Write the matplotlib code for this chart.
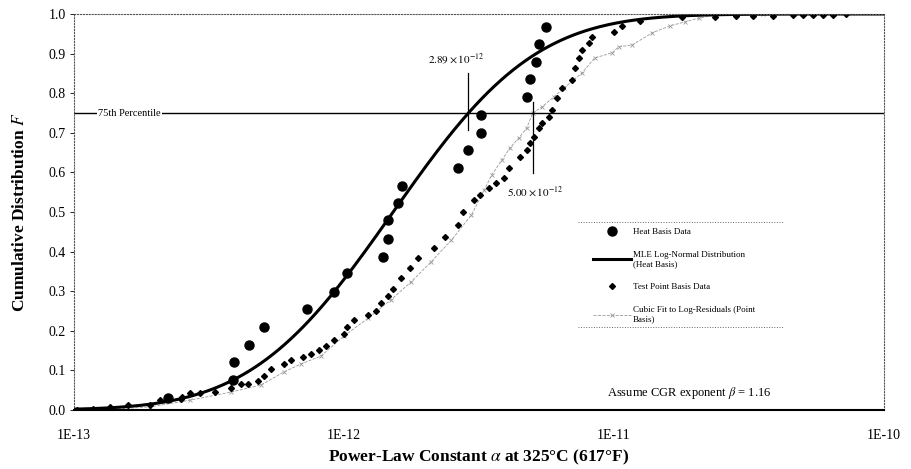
import math
import matplotlib.pyplot as plt
import numpy as np

# Heat basis data: power-law constant alpha and cumulative distribution F
heat_alpha = [2.22e-13, 3.87e-13, 3.90e-13, 4.43e-13, 5.05e-13, 7.28e-13, 9.18e-13,
              1.03e-12, 1.40e-12, 1.46e-12, 1.46e-12, 1.59e-12, 1.64e-12, 2.65e-12,
              2.89e-12, 3.23e-12, 3.23e-12, 4.75e-12, 4.88e-12, 5.13e-12, 5.26e-12,
              5.58e-12]
heat_F = [0.030, 0.076, 0.121, 0.164, 0.210, 0.255, 0.298, 0.346, 0.386, 0.432,
          0.480, 0.523, 0.566, 0.611, 0.657, 0.700, 0.745, 0.790, 0.836, 0.879,
          0.924, 0.967]

# Test point basis data
test_alpha = [1.03e-13, 1.18e-13, 1.36e-13, 1.59e-13, 1.92e-13, 2.09e-13, 2.48e-13,
              2.52e-13, 2.70e-13, 2.94e-13, 3.34e-13, 3.80e-13, 4.14e-13, 4.40e-13,
              4.79e-13, 5.04e-13, 5.35e-13, 5.99e-13, 6.35e-13, 7.04e-13, 7.54e-13,
              8.07e-13, 8.57e-13, 9.18e-13, 1.00e-12, 1.03e-12, 1.09e-12, 1.23e-12,
              1.31e-12, 1.37e-12, 1.46e-12, 1.52e-12, 1.63e-12, 1.75e-12, 1.88e-12,
              2.16e-12, 2.36e-12, 2.65e-12, 2.77e-12, 3.04e-12, 3.18e-12, 3.43e-12,
              3.67e-12, 3.93e-12, 4.10e-12, 4.48e-12, 4.75e-12, 4.88e-12, 5.05e-12,
              5.26e-12, 5.40e-12, 5.73e-12, 5.88e-12, 6.14e-12, 6.41e-12, 6.98e-12,
              7.16e-12, 7.41e-12, 7.61e-12, 8.07e-12, 8.28e-12, 1.00e-11, 1.07e-11,
              1.25e-11, 1.79e-11, 2.37e-11, 2.82e-11, 3.26e-11, 3.87e-11, 4.59e-11,
              5.00e-11, 5.45e-11, 5.93e-11, 6.46e-11, 7.22e-11]
test_F = [0.000, 0.003, 0.008, 0.013, 0.013, 0.025, 0.028, 0.033, 0.043, 0.043,
          0.045, 0.056, 0.066, 0.066, 0.073, 0.086, 0.104, 0.116, 0.126, 0.134,
          0.141, 0.152, 0.162, 0.177, 0.192, 0.210, 0.227, 0.240, 0.250, 0.270,
          0.288, 0.306, 0.333, 0.359, 0.384, 0.409, 0.437, 0.467, 0.500, 0.530,
          0.543, 0.561, 0.573, 0.586, 0.611, 0.639, 0.657, 0.674, 0.689, 0.712,
          0.725, 0.740, 0.758, 0.788, 0.813, 0.833, 0.864, 0.889, 0.909, 0.927,
          0.942, 0.955, 0.970, 0.982, 0.992, 0.993, 0.995, 0.996, 0.996, 0.997,
          0.997, 0.998, 0.998, 0.998, 0.999]

# Cubic fit to log-residuals (point basis)
cubic_alpha = [1.25e-13, 1.92e-13, 2.70e-13, 3.80e-13, 4.92e-13, 5.99e-13, 6.91e-13,
               8.21e-13, 1.00e-12, 1.23e-12, 1.49e-12, 1.77e-12, 2.10e-12, 2.50e-12,
               2.96e-12, 3.31e-12, 3.52e-12, 3.84e-12, 4.12e-12, 4.44e-12, 4.75e-12,
               5.00e-12, 5.40e-12, 5.97e-12, 6.52e-12, 7.61e-12, 8.48e-12, 9.84e-12,
               1.04e-11, 1.17e-11, 1.38e-11, 1.61e-11, 1.83e-11, 2.07e-11, 2.37e-11,
               3.55e-11]
cubic_F = [0.000, 0.008, 0.025, 0.045, 0.063, 0.096, 0.116, 0.136, 0.187, 0.232,
           0.278, 0.323, 0.374, 0.429, 0.492, 0.556, 0.593, 0.631, 0.662, 0.687,
           0.712, 0.750, 0.765, 0.790, 0.813, 0.851, 0.889, 0.902, 0.917, 0.922,
           0.952, 0.970, 0.980, 0.990, 0.997, 1.000]

# MLE log-normal fit (heat basis): 75th percentile and log standard deviation
p75_mle = 2.89e-12
sigma_mle = 0.952
p75_cubic = 5.00e-12
beta = 1.16

plt.rcParams['font.family'] = ['Liberation Serif', 'DejaVu Serif']
plt.rcParams['mathtext.fontset'] = 'stix'

fig = plt.figure(figsize=(9.11, 4.69), dpi=100)
ax = fig.add_axes([74 / 911, 59 / 469, 810 / 911, 396 / 469])

# log-normal CDF through the heat basis percentile
median = p75_mle * math.exp(-0.6745 * sigma_mle)
alpha = np.logspace(-13, -10, 400)
mle_F = [0.5 * (1 + math.erf(math.log(a / median) / (sigma_mle * math.sqrt(2)))) for a in alpha]

cubic, = ax.plot(cubic_alpha, cubic_F, color='#9a9a9a', lw=0.6, ls='--', marker='x',
                 ms=2.5, mew=0.6, label='Cubic Fit to Log-Residuals (Point\nBasis)')
test, = ax.plot(test_alpha, test_F, ls='none', marker='D', ms=3, color='black',
                label='Test Point Basis Data')
mle, = ax.plot(alpha, mle_F, color='black', lw=2.2,
               label='MLE Log-Normal Distribution\n(Heat Basis)')
heat, = ax.plot(heat_alpha, heat_F, ls='none', marker='o', ms=6.5, color='black',
                label='Heat Basis Data')

# 75th percentile line and the two crossing points
ax.axhline(0.75, color='black', lw=1)
ax.text(1.23e-13, 0.75, '75th Percentile', fontsize=7.5, va='center', ha='left',
        bbox=dict(facecolor='white', edgecolor='none', pad=1))
ax.plot([p75_mle, p75_mle], [0.707, 0.851], color='black', lw=0.9)
ax.annotate('$2.89\\times10^{-12}$', (p75_mle, 0.851), xytext=(-9, 5),
            textcoords='offset points', ha='center', va='bottom', fontsize=8)
ax.plot([p75_cubic, p75_cubic], [0.598, 0.778], color='black', lw=0.9)
ax.annotate('$5.00\\times10^{-12}$', (p75_cubic, 0.598), xytext=(2, -8),
            textcoords='offset points', ha='center', va='top', fontsize=8)

ax.text(0.76, 0.043, 'Assume CGR exponent $\\beta$ = %.2f' % beta, transform=ax.transAxes,
        ha='center', va='center', fontsize=9)

leg = ax.legend(handles=[heat, mle, test, cubic], loc='upper left',
                bbox_to_anchor=(0.641, 0.46), frameon=False, fontsize=6.5,
                borderpad=0, borderaxespad=0, handlelength=4.2, handletextpad=0.2,
                labelspacing=1.65, numpoints=1)
for y in (0.475, 0.210):
    ax.plot([0.622, 0.875], [y, y], transform=ax.transAxes, color='#666666',
            lw=0.7, ls=':', clip_on=False)

ax.set_xscale('log')
ax.set_xlim(1e-13, 1e-10)
ax.set_ylim(0, 1)
ax.set_xticks([1e-13, 1e-12, 1e-11, 1e-10])
ax.set_xticklabels(['1E-13', '1E-12', '1E-11', '1E-10'])
ax.set_yticks(np.arange(0, 1.01, 0.1))
ax.set_yticklabels(['%.1f' % v for v in np.arange(0, 1.01, 0.1)])
ax.minorticks_off()
ax.tick_params(axis='x', length=0, pad=14, labelsize=10)
ax.tick_params(axis='y', length=3, pad=3, labelsize=10, width=0.6)

for side in ('top', 'right', 'left'):
    ax.spines[side].set_linestyle(':')
    ax.spines[side].set_color('#555555')
    ax.spines[side].set_linewidth(0.8)
ax.spines['bottom'].set_linewidth(1.5)

ax.set_xlabel('Power-Law Constant $\\alpha$ at 325°C (617°F)', fontsize=12.5, weight='bold')
ax.set_ylabel('Cumulative Distribution $F$', fontsize=12.5, weight='bold')
ax.xaxis.set_label_coords(0.5, -0.095)
ax.yaxis.set_label_coords(-0.057, 0.5)

fig.savefig('out.png', dpi=100)
